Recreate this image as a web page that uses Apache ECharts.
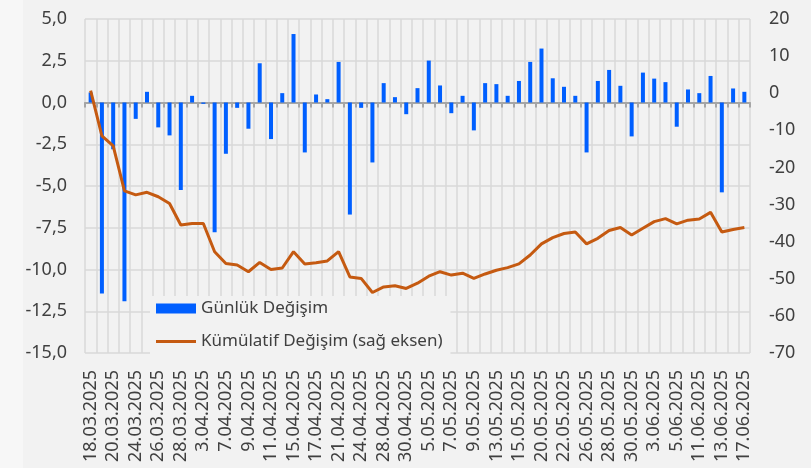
<!DOCTYPE html>
<html>
<head>
<meta charset="utf-8">
<script src="https://cdn.jsdelivr.net/npm/echarts@6/dist/echarts.min.js"></script>
<style>
  html, body { margin: 0; padding: 0; background: #f2f2f2; }
  #chart { width: 811px; height: 468px; }
</style>
</head>
<body>
<div id="chart"></div>
<script>
// işlem günleri (tatiller hariç)
const dates = [
  "18.03.2025", "19.03.2025", "20.03.2025", "21.03.2025", "24.03.2025", "25.03.2025",
  "26.03.2025", "27.03.2025", "28.03.2025", "2.04.2025", "3.04.2025", "4.04.2025",
  "7.04.2025", "8.04.2025", "9.04.2025", "10.04.2025", "11.04.2025", "14.04.2025",
  "15.04.2025", "16.04.2025", "17.04.2025", "18.04.2025", "21.04.2025", "22.04.2025",
  "24.04.2025", "25.04.2025", "28.04.2025", "29.04.2025", "30.04.2025", "2.05.2025",
  "5.05.2025", "6.05.2025", "7.05.2025", "8.05.2025", "9.05.2025", "12.05.2025",
  "13.05.2025", "14.05.2025", "15.05.2025", "16.05.2025", "20.05.2025", "21.05.2025",
  "22.05.2025", "23.05.2025", "26.05.2025", "27.05.2025", "28.05.2025", "29.05.2025",
  "30.05.2025", "2.06.2025", "3.06.2025", "4.06.2025", "5.06.2025", "10.06.2025",
  "11.06.2025", "12.06.2025", "13.06.2025", "16.06.2025", "17.06.2025"
];

const gunluk = [
  0.6, -11.43, -2.8, -11.9, -0.98, 0.64, -1.49, -1.97, -5.24, 0.4,
  -0.08, -7.77, -3.07, -0.32, -1.57, 2.35, -2.19, 0.56, 4.1, -2.99,
  0.48, 0.2, 2.43, -6.71, -0.32, -3.59, 1.16, 0.32, -0.7, 0.86,
  2.51, 1.02, -0.64, 0.4, -1.67, 1.16, 1.1, 0.4, 1.29, 2.43,
  3.23, 1.45, 0.94, 0.4, -2.99, 1.29, 1.95, 1.0, -2.03, 1.79,
  1.43, 1.22, -1.45, 0.78, 0.56, 1.59, -5.38, 0.84, 0.64
];

const kumulatif = [
  0.7, -11.5, -14.2, -26.3, -27.4, -26.7, -27.9, -29.7, -35.5, -35.1,
  -35.1, -42.7, -45.9, -46.3, -48.1, -45.6, -47.5, -47.1, -42.7, -46.0,
  -45.7, -45.2, -42.7, -49.5, -49.9, -53.7, -52.2, -51.9, -52.6, -51.2,
  -49.3, -48.1, -49.0, -48.5, -49.9, -48.7, -47.7, -47.0, -46.0, -43.6,
  -40.6, -38.9, -37.8, -37.4, -40.6, -39.1, -37.0, -36.2, -38.2, -36.4,
  -34.6, -33.8, -35.2, -34.2, -33.9, -32.1, -37.4, -36.7, -36.2
];

const textColor = "#404040";
const gridColor = "#d9d9d9";
const fontFamily = "Noto Sans";

const myChart = echarts.init(document.getElementById("chart"));

myChart.setOption({
  backgroundColor: "#f2f2f2",
  textStyle: { fontFamily: fontFamily },
  animation: false,
  graphic: [
    {
      type: "rect",
      left: 0,
      top: 0,
      z: -10,
      shape: { width: 23, height: 468 },
      style: { fill: "#f7f7f7" },
    },
  ],
  legend: {
    orient: "vertical",
    left: 150,
    top: 296,
    padding: [4, 8, 4, 6],
    backgroundColor: "#f2f2f2",
    itemWidth: 40,
    itemHeight: 10,
    itemGap: 16,
    textStyle: { color: textColor, fontSize: 17, fontFamily: fontFamily },
    data: [
      { name: "Günlük Değişim", icon: "rect" },
      {
        name: "Kümülatif Değişim (sağ eksen)",
        icon: "path://M0,0L40,0L40,3L0,3Z",
        itemStyle: { color: "#c55a11" },
      },
    ],
  },
  grid: {
    left: 85,
    right: 61,
    top: 19,
    bottom: 115,
    containLabel: false,
  },
  xAxis: [
    {
      type: "category",
      data: dates,
      position: "bottom",
      boundaryGap: true,
      axisLine: { show: false, onZero: false },
      axisTick: { show: false },
      splitLine: {
        show: true,
        interval: 0,
        lineStyle: { color: gridColor, width: 1.5 },
      },
      axisLabel: {
        interval: 1,
        rotate: 90,
        margin: 17,
        color: textColor,
        fontSize: 18,
        fontFamily: fontFamily,
      },
    },
    {
      type: "category",
      data: dates,
      position: "bottom",
      boundaryGap: true,
      axisLine: {
        show: true,
        onZero: true,
        onZeroAxisIndex: 0,
        lineStyle: { color: "#a6a6a6", width: 2 },
      },
      axisTick: {
        show: true,
        interval: 0,
        length: 5,
        lineStyle: { color: "#a6a6a6", width: 2 },
      },
      splitLine: { show: false },
      axisLabel: { show: false },
    },
  ],
  yAxis: [
    {
      type: "value",
      min: -15,
      max: 5,
      interval: 2.5,
      axisLine: { show: false },
      axisTick: { show: false },
      splitLine: { lineStyle: { color: gridColor, width: 1.5 } },
      axisLabel: {
        margin: 18,
        color: textColor,
        fontSize: 18,
        fontFamily: fontFamily,
        formatter: (v) => v.toFixed(1).replace(".", ","),
      },
    },
    {
      type: "value",
      min: -70,
      max: 20,
      interval: 10,
      position: "right",
      axisLine: { show: false },
      axisTick: { show: false },
      splitLine: { show: false },
      axisLabel: {
        margin: 19,
        color: textColor,
        fontSize: 18,
        fontFamily: fontFamily,
      },
    },
  ],
  series: [
    {
      name: "Günlük Değişim",
      type: "bar",
      xAxisIndex: 0,
      yAxisIndex: 0,
      data: gunluk,
      barWidth: 4,
      itemStyle: { color: "#005fff" },
      z: 2,
    },
    {
      name: "Kümülatif Değişim (sağ eksen)",
      type: "line",
      xAxisIndex: 0,
      yAxisIndex: 1,
      data: kumulatif,
      symbol: "none",
      lineStyle: { color: "#c55a11", width: 3 },
      itemStyle: { color: "#c55a11" },
      z: 3,
    },
  ],
});
</script>
</body>
</html>
